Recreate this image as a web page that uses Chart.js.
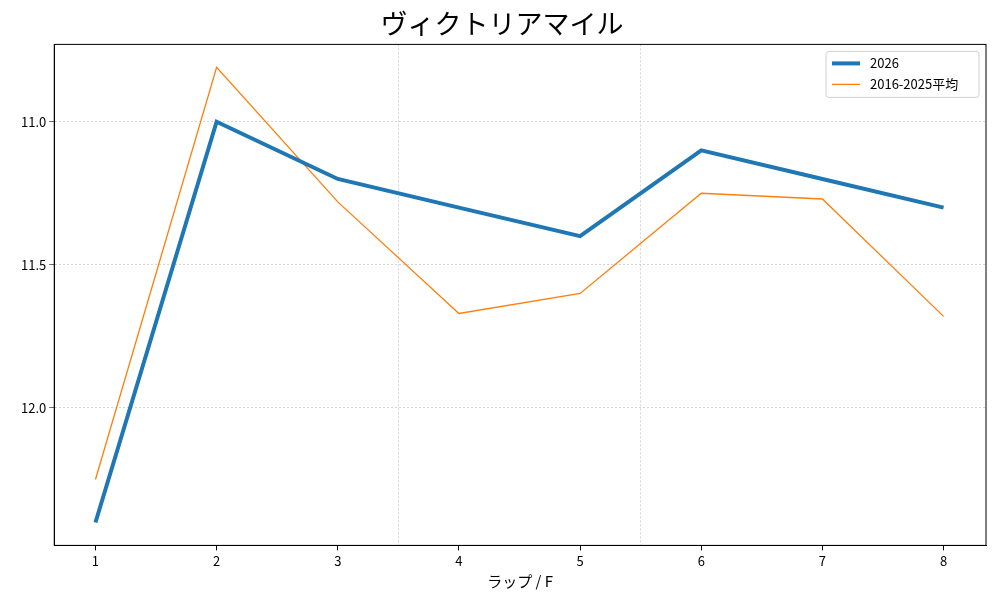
<!DOCTYPE html>
<html><head><meta charset="utf-8">
<script src="https://cdn.jsdelivr.net/npm/chart.js@4"></script>
<style>body{margin:0;background:#fff}#w{width:1000px;height:600px}</style>
</head><body><div id="w"><canvas id="c"></canvas></div>
<script>
const laps=[1,2,3,4,5,6,7,8];
const s2026=[12.40,11.0,11.2,11.3,11.4,11.1,11.2,11.3];
const sAvg=[12.25,10.81,11.28,11.67,11.60,11.25,11.27,11.68];
const yTicks=[11.0,11.5,12.0];
const dividers=[3.5,5.5];
const F='"Noto Sans CJK JP", "DejaVu Sans", sans-serif';
const extras={id:'extras',
 beforeDatasetsDraw(ch){const {ctx,chartArea:a,scales:{x}}=ch;ctx.save();ctx.strokeStyle='#b8b8b8';ctx.lineWidth=0.6;ctx.setLineDash([2,2]);
  dividers.forEach(v=>{const px=x.getPixelForValue(v);ctx.beginPath();ctx.moveTo(px,a.top);ctx.lineTo(px,a.bottom);ctx.stroke();});ctx.restore();},
 afterDraw(ch){const {ctx,chartArea:a}=ch;ctx.save();
  ctx.strokeStyle='#000';ctx.lineWidth=1;ctx.strokeRect(a.left,a.top,a.right-a.left,a.bottom-a.top);
  const w=153,h=46,x0=a.right-w-7,y0=a.top+7;
  ctx.fillStyle='rgba(255,255,255,0.8)';ctx.strokeStyle='#d0d0d0';ctx.lineWidth=1;
  ctx.beginPath();ctx.roundRect(x0,y0,w,h,3);ctx.fill();ctx.stroke();
  ctx.font='13px '+F;ctx.fillStyle='#000';ctx.textBaseline='middle';
  [['2026','#1f77b4',4],['2016-2025平均','#ff7f0e',1.3]].forEach((d,i)=>{const yy=y0+12+i*21;
   ctx.strokeStyle=d[1];ctx.lineWidth=d[2];ctx.beginPath();ctx.moveTo(x0+6,yy);ctx.lineTo(x0+34,yy);ctx.stroke();
   ctx.fillText(d[0],x0+44,yy);});
  ctx.restore();}};
new Chart(document.getElementById('c'),{type:'line',
 data:{datasets:[
  {label:'2026',data:laps.map((l,i)=>({x:l,y:s2026[i]})),borderColor:'#1f77b4',borderWidth:4,pointRadius:0,tension:0},
  {label:'2016-2025平均',data:laps.map((l,i)=>({x:l,y:sAvg[i]})),borderColor:'#ff7f0e',borderWidth:1.3,pointRadius:0,tension:0}]},
 options:{responsive:true,maintainAspectRatio:false,animation:false,
  layout:{padding:{left:18,right:14,top:4,bottom:6}},
  plugins:{legend:{display:false},title:{display:true,text:'ヴィクトリアマイル',font:{family:F,size:27,weight:'normal'},color:'#000',padding:{top:4,bottom:4}}},
  scales:{
   x:{type:'linear',min:0.66,max:8.35,afterBuildTicks:s=>{s.ticks=laps.map(v=>({value:v}))},
    grid:{display:true,drawOnChartArea:false,drawTicks:true,tickLength:5,tickColor:'#000'},border:{color:'#000'},
    ticks:{color:'#000',font:{family:F,size:13}},
    title:{display:true,text:'ラップ / F',font:{family:F,size:15},color:'#000',padding:{top:0}}},
   y:{reverse:true,min:10.73,max:12.48,afterBuildTicks:s=>{s.ticks=yTicks.map(v=>({value:v}))},
    grid:{color:'#b8b8b8',lineWidth:0.6,tickColor:'#000',tickLength:5},border:{color:'#000',dash:[2,2]},
    ticks:{color:'#000',font:{family:F,size:13},callback:v=>v.toFixed(1)}}}},
 plugins:[extras]});
</script></body></html>
